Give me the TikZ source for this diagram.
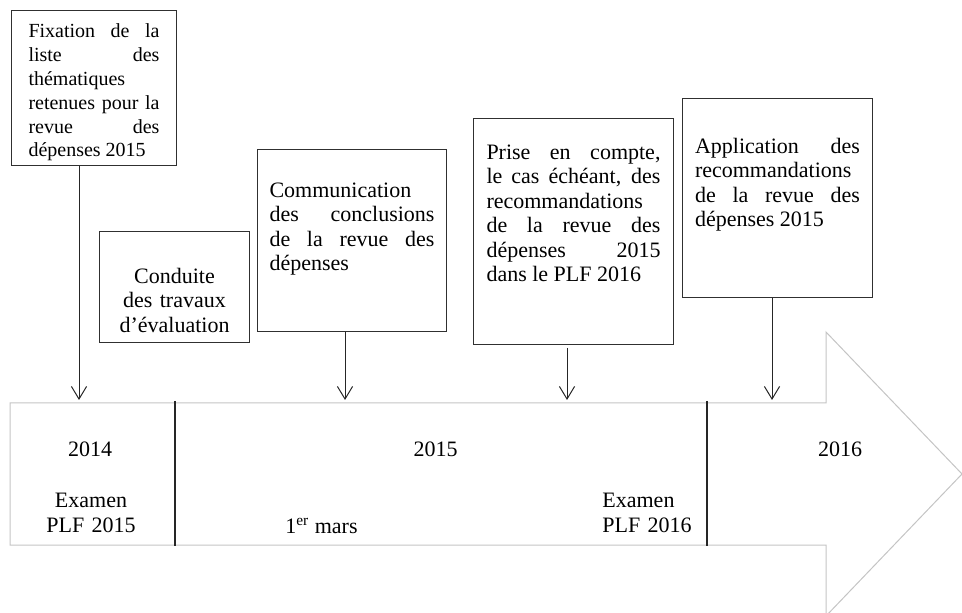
\documentclass[tikz,border=0pt]{standalone}
\usepackage{fontspec}
\setmainfont{Liberation Serif}
\usetikzlibrary{arrows.meta}
\definecolor{cBOX}{HTML}{303030}
\definecolor{cFOND}{HTML}{C4C4C4}
\tolerance=10000
\hyphenpenalty=10000

\begin{document}
\begin{tikzpicture}[x=0.5pt, y=-0.5pt, >={Straight Barb[length=6.3pt,width=7.6pt]},
  etape/.style={draw=cBOX, line width=0.5pt, anchor=north west, align=justify, inner ysep=4pt, font=\fontsize{11}{12.25}\selectfont},
  annee/.style={anchor=base, font=\fontsize{11}{12.5}\selectfont},
  fleche/.style={->, line width=0.5pt, black!85},
  separation/.style={line width=0.75pt, black!85}]
\useasboundingbox (0,0) rectangle (962,613);
% la fleche du calendrier
\draw[cFOND, line width=0.5pt] (10,403) -- (826,403) -- (826,332) -- (962,474) -- (826,616) -- (826,545) -- (10,545) -- cycle;
\draw[separation] (175,401) -- (175,546);
\draw[separation] (707,401) -- (707,546);
\node[annee] (a2014) at (90,457) {2014};
\node[annee, text width=60pt, align=center] (plf15) at (91,508) {Examen\\PLF 2015};
\node[annee] (mars) at (321.5,533) {1\textsuperscript{er} mars};
\node[annee] (a2015) at (435.5,457) {2015};
\node[annee, anchor=base west, inner sep=0pt, text width=50pt, align=left] (plf16) at (602,508) {Examen\\PLF 2016};
\node[annee] (a2016) at (840,457) {2016};
% les etapes
\node[etape, font=\fontsize{10}{11.95}\selectfont, text width=65.5pt, inner xsep=8.5pt, text height=9.5pt, text depth=60pt] (fixation) at (11,10) {Fixation de la\linebreak liste des\linebreak thématiques\linebreak retenues pour la\linebreak revue des\linebreak dépenses 2015};
\node[etape, align=center, text width=67.5pt, inner xsep=3.75pt, text height=22pt, text depth=25.5pt] (conduite) at (99,231) {Conduite\\des travaux\\d’évaluation};
\node[etape, text width=82.5pt, inner xsep=6pt, text height=20pt, text depth=63pt] (communication) at (257,149) {Communication\linebreak des conclusions\linebreak de la revue des\linebreak dépenses};
\node[etape, text width=87pt, inner xsep=6.5pt, text height=16.5pt, text depth=88.5pt] (priseencompte) at (473,118) {Prise en compte,\linebreak le cas échéant, des\linebreak recommandations\linebreak de la revue des\linebreak dépenses 2015\linebreak dans le PLF 2016};
\node[etape, text width=82.5pt, inner xsep=6.25pt, text height=23.5pt, text depth=68pt] (application) at (682,98) {Application des\linebreak recommandations\linebreak de la revue des\linebreak dépenses 2015};
\coordinate (t1) at (79,400);
\coordinate (t3) at (345,400);
\coordinate (t4) at (567,400);
\coordinate (t5) at (772,400);
\draw[fleche] (fixation.south -| t1) -- (t1);
\draw[fleche] (communication.south -| t3) -- (t3);
\draw[fleche, shorten <=1.5pt] (priseencompte.south -| t4) -- (t4);
\draw[fleche] (application.south -| t5) -- (t5);
\end{tikzpicture}
\end{document}
